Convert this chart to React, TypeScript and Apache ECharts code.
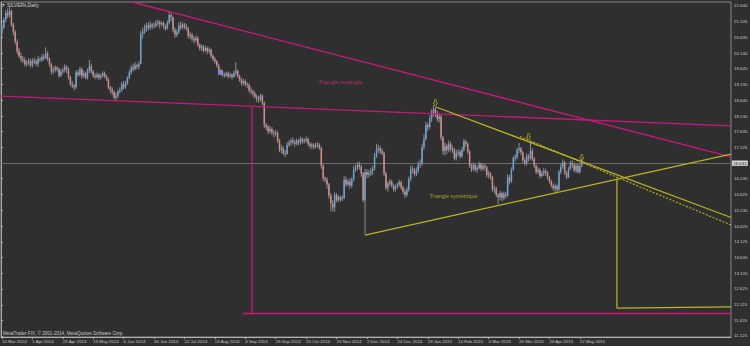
import React, { useEffect, useRef } from 'react';
import * as echarts from 'echarts';

// Daily candles [open, close, low, high], SILVER
const mar14 = [
  [20.78, 20.95, 20.70, 21.05], [20.95, 21.20, 20.90, 21.28], [21.20, 21.42, 21.12, 21.50], [21.42, 21.35, 21.25, 21.56],
  [21.35, 21.48, 21.28, 21.60], [21.48, 21.05, 20.98, 21.52], [21.05, 20.82, 20.70, 21.10], [20.82, 20.50, 20.42, 20.88],
  [20.50, 20.20, 20.10, 20.58], [20.20, 20.05, 19.98, 20.30], [20.05, 19.95, 19.85, 20.15], [19.95, 19.90, 19.82, 20.05],
  [19.90, 19.78, 19.72, 20.00], [19.78, 19.82, 19.70, 19.92], [19.82, 19.88, 19.75, 19.98], [19.88, 19.75, 19.68, 19.95],
];
const apr14 = [
  [19.75, 19.90, 19.68, 19.98], [19.90, 19.88, 19.78, 20.00], [19.88, 19.80, 19.72, 19.95], [19.80, 19.95, 19.70, 20.05],
  [19.95, 19.92, 19.85, 20.02], [19.92, 20.02, 19.86, 20.10], [20.02, 19.98, 19.90, 20.12], [19.98, 20.12, 19.94, 20.32],
  [20.12, 19.95, 19.88, 20.20], [19.95, 19.78, 19.70, 20.00], [19.78, 19.55, 19.45, 19.82], [19.55, 19.60, 19.48, 19.70],
  [19.60, 19.68, 19.52, 19.75], [19.68, 19.62, 19.55, 19.72], [19.62, 19.42, 19.35, 19.68], [19.42, 19.55, 19.38, 19.62],
  [19.55, 19.60, 19.48, 19.68], [19.60, 19.70, 19.52, 19.78], [19.70, 19.62, 19.50, 19.75], [19.62, 19.38, 19.30, 19.68],
  [19.38, 19.15, 19.08, 19.42], [19.15, 19.10, 19.02, 19.25],
];
const may14 = [
  [19.10, 19.05, 18.95, 19.15], [19.05, 19.52, 19.00, 19.60], [19.52, 19.45, 19.38, 19.60], [19.45, 19.62, 19.40, 19.70],
  [19.62, 19.40, 19.32, 19.68], [19.40, 19.50, 19.35, 19.58], [19.50, 19.35, 19.30, 19.55], [19.35, 19.58, 19.30, 19.65],
  [19.58, 19.72, 19.50, 19.92], [19.72, 19.55, 19.48, 19.80], [19.55, 19.42, 19.35, 19.60], [19.42, 19.38, 19.30, 19.50],
  [19.38, 19.45, 19.32, 19.52], [19.45, 19.35, 19.28, 19.50], [19.35, 19.42, 19.30, 19.48], [19.42, 19.50, 19.36, 19.56],
  [19.50, 19.40, 19.34, 19.55], [19.40, 19.30, 19.25, 19.45], [19.30, 19.05, 18.98, 19.35], [19.05, 18.98, 18.85, 19.10],
  [18.98, 18.90, 18.80, 19.05], [18.90, 18.72, 18.66, 18.95],
];
const jun14 = [
  [18.72, 18.78, 18.64, 18.88], [18.78, 18.92, 18.70, 18.98], [18.92, 18.95, 18.85, 19.05], [18.95, 19.15, 18.90, 19.22],
  [19.15, 19.05, 18.98, 19.25], [19.05, 19.18, 19.00, 19.25], [19.18, 19.35, 19.12, 19.40], [19.35, 19.52, 19.30, 19.60],
  [19.52, 19.68, 19.45, 19.75], [19.68, 19.62, 19.55, 19.80], [19.62, 19.75, 19.58, 19.85], [19.75, 19.70, 19.62, 19.80],
  [19.70, 19.80, 19.62, 19.88], [19.80, 20.75, 19.78, 20.85], [20.75, 20.82, 20.60, 20.95], [20.82, 20.90, 20.75, 21.05],
  [20.90, 21.02, 20.82, 21.10], [21.02, 20.95, 20.85, 21.12], [20.95, 21.05, 20.88, 21.15], [21.05, 21.00, 20.90, 21.10],
  [21.00, 21.02, 20.92, 21.12],
];
const jul14 = [
  [21.02, 21.08, 20.95, 21.18], [21.08, 21.12, 21.00, 21.20], [21.12, 21.05, 20.92, 21.18], [21.05, 21.10, 21.00, 21.15],
  [21.10, 21.00, 20.90, 21.15], [21.00, 20.92, 20.85, 21.05], [20.92, 21.10, 20.88, 21.18], [21.10, 21.35, 21.05, 21.47],
  [21.35, 21.28, 21.15, 21.40], [21.28, 20.88, 20.80, 21.30], [20.88, 20.72, 20.62, 20.95], [20.72, 20.80, 20.65, 20.90],
  [20.80, 21.02, 20.75, 21.12], [21.02, 20.95, 20.88, 21.15], [20.95, 21.05, 20.90, 21.12], [21.05, 20.98, 20.90, 21.10],
  [20.98, 20.92, 20.85, 21.08], [20.92, 20.68, 20.60, 20.98], [20.68, 20.72, 20.58, 20.82], [20.72, 20.60, 20.52, 20.78],
  [20.60, 20.55, 20.45, 20.68], [20.55, 20.62, 20.48, 20.70], [20.62, 20.40, 20.33, 20.68],
];
const aug14 = [
  [20.40, 20.30, 20.22, 20.45], [20.30, 20.35, 20.20, 20.42], [20.35, 20.22, 20.15, 20.40], [20.22, 20.30, 20.18, 20.38],
  [20.30, 20.20, 20.10, 20.35], [20.20, 20.25, 20.12, 20.32], [20.25, 20.05, 19.98, 20.28], [20.05, 19.95, 19.88, 20.10],
  [19.95, 19.88, 19.80, 20.02], [19.88, 19.75, 19.68, 19.92], [19.75, 19.60, 19.52, 19.80], [19.60, 19.55, 19.48, 19.65],
  [19.55, 19.45, 19.38, 19.60], [19.45, 19.42, 19.35, 19.52], [19.42, 19.50, 19.38, 19.55], [19.50, 19.40, 19.32, 19.55],
  [19.40, 19.45, 19.35, 19.52], [19.45, 19.38, 19.30, 19.50], [19.38, 19.50, 19.35, 19.58], [19.50, 19.58, 19.42, 19.85],
  [19.58, 19.40, 19.35, 19.62],
];
const sep14 = [
  [19.40, 19.30, 19.22, 19.45], [19.30, 19.18, 19.10, 19.35], [19.18, 19.25, 19.10, 19.32], [19.25, 19.15, 19.08, 19.30],
  [19.15, 19.12, 19.02, 19.22], [19.12, 18.95, 18.88, 19.18], [18.95, 18.92, 18.82, 19.05], [18.92, 18.85, 18.75, 18.98],
  [18.85, 18.75, 18.68, 18.92], [18.75, 18.70, 18.58, 18.82], [18.70, 18.65, 18.55, 18.78], [18.65, 18.78, 18.60, 18.85],
  [18.78, 18.55, 18.48, 18.82], [18.55, 17.85, 17.75, 18.60], [17.85, 17.78, 17.68, 17.92], [17.78, 17.65, 17.55, 17.85],
  [17.65, 17.72, 17.58, 17.82], [17.72, 17.60, 17.52, 17.78], [17.60, 17.58, 17.45, 17.68], [17.58, 17.60, 17.48, 17.70],
  [17.60, 17.35, 17.28, 17.65], [17.35, 17.05, 16.98, 17.40],
];
const oct14 = [
  [17.05, 17.10, 16.95, 17.22], [17.10, 16.95, 16.88, 17.18], [16.95, 16.92, 16.82, 17.05], [16.92, 17.22, 16.90, 17.30],
  [17.22, 17.28, 17.15, 17.36], [17.28, 17.35, 17.18, 17.42], [17.35, 17.30, 17.22, 17.45], [17.30, 17.25, 17.15, 17.38],
  [17.25, 17.35, 17.20, 17.42], [17.35, 17.28, 17.20, 17.40], [17.28, 17.40, 17.22, 17.48], [17.40, 17.32, 17.25, 17.45],
  [17.32, 17.36, 17.25, 17.42], [17.36, 17.40, 17.28, 17.48], [17.40, 17.25, 17.18, 17.45], [17.25, 17.18, 17.10, 17.30],
  [17.18, 17.22, 17.08, 17.28], [17.22, 17.15, 17.08, 17.26], [17.15, 17.20, 17.10, 17.28], [17.20, 17.22, 17.12, 17.30],
  [17.22, 17.12, 17.05, 17.27], [17.12, 16.55, 16.45, 17.15], [16.55, 16.15, 16.05, 16.60],
];
const nov14 = [
  [16.15, 16.10, 16.02, 16.20], [16.10, 15.95, 15.82, 16.18], [15.95, 15.60, 15.50, 16.00], [15.60, 15.35, 15.10, 15.68],
  [15.35, 15.22, 15.08, 15.45], [15.22, 15.62, 15.08, 15.70], [15.62, 15.45, 15.38, 15.68], [15.45, 15.55, 15.40, 15.62],
  [15.55, 15.48, 15.40, 15.60], [15.48, 15.52, 15.42, 15.60], [15.52, 16.10, 15.48, 16.22], [16.10, 15.95, 15.88, 16.20],
  [15.95, 16.05, 15.90, 16.12], [16.05, 15.92, 15.82, 16.15], [15.92, 16.10, 15.85, 16.18], [16.10, 16.42, 16.05, 16.55],
  [16.42, 16.48, 16.35, 16.58], [16.48, 16.58, 16.40, 16.66], [16.58, 16.52, 16.42, 16.68], [16.52, 16.30, 16.20, 16.58],
  [16.30, 15.45, 15.38, 16.35],
];
const dec14 = [
  [15.45, 16.35, 14.35, 16.45], [16.35, 16.25, 16.15, 16.45], [16.25, 16.32, 16.18, 16.42], [16.32, 16.38, 16.22, 16.48],
  [16.38, 16.45, 16.25, 16.55], [16.45, 16.85, 16.40, 16.95], [16.85, 17.05, 16.80, 17.25], [17.05, 17.10, 16.95, 17.22],
  [17.10, 17.02, 16.92, 17.18], [17.02, 16.95, 16.88, 17.10], [16.95, 16.30, 16.22, 17.00], [16.30, 15.85, 15.78, 16.35],
  [15.85, 15.98, 15.72, 16.05], [15.98, 16.05, 15.90, 16.12], [16.05, 15.92, 15.85, 16.10], [15.92, 15.80, 15.72, 15.98],
  [15.80, 15.88, 15.72, 15.95], [15.88, 15.95, 15.82, 16.02], [15.95, 16.02, 15.88, 16.10], [16.02, 15.85, 15.78, 16.08],
  [15.85, 15.72, 15.65, 15.92], [15.72, 15.62, 15.52, 15.80],
];
const jan15 = [
  [15.62, 15.78, 15.55, 15.88], [15.78, 16.12, 15.72, 16.20], [16.12, 16.45, 16.05, 16.55], [16.45, 16.42, 16.30, 16.55],
  [16.42, 16.28, 16.20, 16.48], [16.28, 16.38, 16.22, 16.50], [16.38, 16.58, 16.32, 16.68], [16.58, 16.62, 16.48, 16.75],
  [16.62, 17.15, 16.55, 17.25], [17.15, 17.40, 17.05, 17.55], [17.40, 17.85, 17.35, 17.95], [17.85, 17.78, 17.65, 17.92],
  [17.78, 18.05, 17.72, 18.15], [18.05, 18.28, 17.95, 18.35], [18.28, 18.35, 18.12, 18.48], [18.35, 18.22, 18.10, 18.42],
  [18.22, 18.05, 17.95, 18.30], [18.05, 18.12, 17.92, 18.22], [18.12, 17.45, 17.35, 18.18], [17.45, 17.02, 16.90, 17.50],
  [17.02, 17.18, 16.88, 17.28],
];
const feb15 = [
  [17.18, 17.05, 16.92, 17.25], [17.05, 17.25, 16.98, 17.35], [17.25, 17.10, 17.00, 17.32], [17.10, 17.05, 16.95, 17.20],
  [17.05, 16.78, 16.72, 17.12], [16.78, 16.95, 16.72, 17.05], [16.95, 16.98, 16.85, 17.08], [16.98, 16.85, 16.78, 17.05],
  [16.85, 17.05, 16.80, 17.15], [17.05, 17.32, 17.00, 17.40], [17.32, 17.25, 17.15, 17.38], [17.25, 17.00, 16.92, 17.30],
  [17.00, 16.55, 16.48, 17.05], [16.55, 16.45, 16.35, 16.62], [16.45, 16.58, 16.38, 16.65], [16.58, 16.42, 16.35, 16.62],
  [16.42, 16.48, 16.32, 16.55], [16.48, 16.60, 16.42, 16.68], [16.60, 16.45, 16.38, 16.65], [16.45, 16.55, 16.40, 16.62],
];
const mar15 = [
  [16.55, 16.50, 16.38, 16.62], [16.50, 16.25, 16.18, 16.55], [16.25, 16.30, 16.15, 16.40], [16.30, 16.18, 16.10, 16.35],
  [16.18, 15.80, 15.72, 16.22], [15.80, 15.82, 15.68, 15.92], [15.82, 15.62, 15.55, 15.88], [15.62, 15.55, 15.32, 15.68],
  [15.55, 15.68, 15.45, 15.75], [15.68, 15.52, 15.42, 15.72], [15.52, 15.65, 15.45, 15.72], [15.65, 15.60, 15.50, 15.72],
  [15.60, 16.18, 15.55, 16.28], [16.18, 16.05, 15.95, 16.25], [16.05, 16.42, 16.00, 16.50], [16.42, 16.78, 16.38, 16.85],
  [16.78, 16.82, 16.68, 16.92], [16.82, 17.05, 16.75, 17.12], [17.05, 17.10, 16.95, 17.28], [17.10, 16.98, 16.88, 17.15],
  [16.98, 16.72, 16.65, 17.02], [16.72, 16.62, 16.55, 16.80],
];
const apr15 = [
  [16.62, 16.85, 16.55, 16.95], [16.85, 16.78, 16.68, 16.92], [16.78, 17.02, 16.72, 17.32], [17.02, 16.78, 16.70, 17.10],
  [16.78, 16.55, 16.48, 16.82], [16.55, 16.35, 16.28, 16.60], [16.35, 16.42, 16.28, 16.50], [16.42, 16.22, 16.15, 16.48],
  [16.22, 16.30, 16.18, 16.38], [16.30, 16.38, 16.22, 16.48], [16.38, 16.32, 16.22, 16.45], [16.32, 16.18, 16.10, 16.38],
  [16.18, 16.05, 15.98, 16.22], [16.05, 15.92, 15.85, 16.10], [15.92, 15.82, 15.75, 15.98], [15.82, 15.90, 15.70, 15.98],
  [15.90, 15.78, 15.68, 15.95], [15.78, 16.35, 15.75, 16.42], [16.35, 16.52, 16.28, 16.62], [16.52, 16.65, 16.45, 16.75],
  [16.65, 16.32, 16.25, 16.70],
];
const may15 = [
  [16.32, 16.18, 16.12, 16.38], [16.18, 16.45, 16.15, 16.52], [16.45, 16.62, 16.40, 16.70], [16.62, 16.58, 16.48, 16.72],
  [16.58, 16.40, 16.35, 16.65], [16.40, 16.55, 16.32, 16.62], [16.55, 16.35, 16.30, 16.60], [16.35, 16.55, 16.30, 16.65],
  [16.55, 16.631, 16.50, 16.78],
];

const xLabels = [
  '10 Mar 2014', '1 Apr 2014', '23 Apr 2014', '15 May 2014', '6 Jun 2014', '30 Jun 2014', '22 Jul 2014',
  '13 Aug 2014', '4 Sep 2014', '26 Sep 2014', '20 Oct 2014', '10 Nov 2014', '2 Dec 2014', '24 Dec 2014',
  '19 Jan 2015', '10 Feb 2015', '4 Mar 2015', '26 Mar 2015', '20 Apr 2015', '12 May 2015',
];
const yTicks = [
  21.64, 21.145, 20.635, 20.14, 19.645, 19.135, 18.64, 18.13, 17.635, 17.125,
  16.135, 15.625, 15.13, 14.62, 14.125, 13.63, 13.12, 12.625, 12.115, 11.62, 11.125,
];
const currentPrice = 16.631;

// Drawn objects: [bar position, price]
const pinkUpperLine = [[68.9, 21.767], [384, 16.83]];
const pinkFlatLine = [[0, 18.77], [384, 17.82]];
const pinkDrop = [[132, 18.44], [132, 11.84]];
const pinkTarget = [[127.3, 11.84], [384, 11.84]];
const yellowUpper = [[228.8, 18.42], [384, 14.9]];
const yellowDotted = [[273, 17.48], [384, 14.66]];
const yellowLower = [[191.5, 14.34], [384, 16.92]];
const yellowDrop = [[324, 16.13], [324, 12.01]];
const yellowTarget = [[324, 12.01], [384, 12.05]];
const arrowMarks = [[228, 18.55], [277, 17.465], [305, 16.8]];
const selectedMark = [[115, 19.52]];
const textRect = [[166.8, 19.22]];
const textSym = [[225.1, 15.585]];

const SLOTS = 384;
const BG = '#2f2f2f';
const FONT = 'Liberation Sans';
const PINK = '#c8187a';
const YELLOW = '#bdb424';
const BULL = '#68a4d6';
const BEAR = '#d28c8c';
const WICK = '#8e8e8e';
const AXIS_TXT = '#c8c8c8';

export default function App() {
  const ref = useRef<HTMLDivElement>(null);

  useEffect(() => {
    const chart = echarts.init(ref.current!, null, { renderer: 'svg' });
    const all = [mar14, apr14, may14, jun14, jul14, aug14, sep14, oct14, nov14, dec14, jan15, feb15, mar15, apr15, may15];
    const candles = ([] as number[][]).concat(...all).map((d, i) => [i, d[0], d[1], d[2], d[3]]);
    const lastLabelIdx = (xLabels.length - 1) * 16;
    const showIdx = (idx: number) => idx % 16 === 0 && idx <= lastLabelIdx;

    const seg = (data: number[][], color: string, width: number, type: any = 'solid') => ({
      type: 'line',
      xAxisIndex: 1,
      yAxisIndex: 0,
      data,
      symbol: 'none',
      silent: true,
      z: 5,
      lineStyle: { color, width, type },
    });

    const option: any = {
      animation: false,
      backgroundColor: BG,
      textStyle: { fontFamily: FONT },
      grid: {
        left: 1, right: 19, top: 2, bottom: 9,
        show: true, borderColor: '#8a8a8a', borderWidth: 1,
        outerBoundsMode: 'none',
      },
      xAxis: [
        {
          type: 'category',
          data: Array.from({ length: SLOTS }, (_, i) => String(i)),
          axisLine: { show: true, lineStyle: { color: '#b0b0b0', width: 1 } },
          axisTick: { show: true, interval: (idx: number) => showIdx(idx), alignWithLabel: true, length: 2, lineStyle: { color: '#b0b0b0' } },
          axisLabel: {
            interval: (idx: number) => showIdx(idx),
            formatter: (_v: string, idx: number) => (showIdx(idx) ? xLabels[idx / 16] : ''),
            color: AXIS_TXT, fontSize: 4.4, fontFamily: FONT, align: 'left', margin: 2.5,
          },
          splitLine: { show: false },
        },
        { type: 'value', min: 0, max: SLOTS, show: false },
      ],
      yAxis: {
        type: 'value',
        position: 'right',
        min: 11.091,
        max: 21.767,
        scale: true,
        axisLine: { show: true, lineStyle: { color: '#b0b0b0', width: 1 } },
        axisTick: { show: true, customValues: yTicks, length: 2, lineStyle: { color: '#b0b0b0' } },
        axisLabel: {
          customValues: yTicks,
          formatter: (v: number) => v.toFixed(3),
          color: AXIS_TXT, fontSize: 4.4, fontFamily: FONT, margin: 3, align: 'left',
        },
        splitLine: { show: false },
      },
      graphic: [
        { type: 'polygon', shape: { points: [[2, 4], [5, 4], [3.5, 6]] }, style: { fill: '#d0d0d0' } },
        { type: 'text', left: 7, top: 2.5, style: { text: 'SILVERs,Daily', fill: '#d0d0d0', fontSize: 4.9, fontFamily: FONT } },
        { type: 'text', left: 3, top: 330.5, style: { text: 'MetaTrader FIX, \u00a9 2001-2014, MetaQuotes Software Corp.', fill: '#c8c8c8', fontSize: 4.6, fontFamily: FONT } },
      ],
      series: [
        {
          type: 'custom',
          xAxisIndex: 0,
          yAxisIndex: 0,
          z: 2,
          silent: true,
          data: candles,
          encode: { x: 0, y: [1, 2, 3, 4] },
          renderItem: (_p: any, api: any) => {
            const i = api.value(0);
            const o = api.value(1), c = api.value(2), l = api.value(3), h = api.value(4);
            const pO = api.coord([i, o]);
            const pC = api.coord([i, c]);
            const pL = api.coord([i, l]);
            const pH = api.coord([i, h]);
            const x = pO[0];
            const top = Math.min(pO[1], pC[1]);
            const bh = Math.max(1, Math.abs(pO[1] - pC[1]));
            return {
              type: 'group',
              children: [
                { type: 'line', shape: { x1: x, y1: pH[1], x2: x, y2: pL[1] }, style: { stroke: WICK, lineWidth: 1 } },
                { type: 'rect', shape: { x: x - 0.75, y: top, width: 1.5, height: bh }, style: { fill: c >= o ? BULL : BEAR } },
              ],
            };
          },
        },
        {
          ...seg(pinkFlatLine, PINK, 1.3),
          markLine: {
            silent: true,
            symbol: ['none', 'none'],
            data: [{ yAxis: currentPrice }],
            lineStyle: { color: '#6a6a6a', width: 1, type: 'solid' },
            label: {
              show: true, position: 'end', formatter: currentPrice.toFixed(3), distance: 1,
              color: '#1c1c1c', backgroundColor: '#d4d4d4', fontSize: 4.4, fontFamily: FONT,
              padding: [0.8, 1.2, 0.6, 1.2],
            },
            z: 1,
          },
        },
        seg(pinkUpperLine, PINK, 1.3),
        seg(pinkDrop, PINK, 1.3),
        seg(pinkTarget, PINK, 1.5),
        seg(yellowUpper, YELLOW, 1.2),
        seg(yellowDotted, YELLOW, 1.1, [2, 1.6]),
        seg(yellowLower, YELLOW, 1.2),
        seg(yellowDrop, YELLOW, 1.2),
        seg(yellowTarget, YELLOW, 1.2),
        {
          type: 'scatter', xAxisIndex: 0, yAxisIndex: 0, z: 6, silent: true,
          data: arrowMarks,
          symbol: 'path://M3,0H7V5H10L5,10L0,5H3Z',
          symbolSize: [4.5, 6.5],
          itemStyle: { color: 'rgba(0,0,0,0)', borderColor: YELLOW, borderWidth: 0.8 },
        },
        {
          type: 'scatter', xAxisIndex: 0, yAxisIndex: 0, z: 6, silent: true,
          data: selectedMark, symbol: 'rect', symbolSize: 5,
          itemStyle: { color: '#8f86e6', opacity: 0.85 },
        },
        {
          type: 'scatter', xAxisIndex: 1, yAxisIndex: 0, z: 6, silent: true,
          data: textRect, symbolSize: 1, itemStyle: { color: 'rgba(0,0,0,0)' },
          label: { show: true, position: 'right', distance: 0, formatter: 'Triangle rectangle', color: '#d8287f', fontSize: 5.5, fontFamily: FONT },
        },
        {
          type: 'scatter', xAxisIndex: 1, yAxisIndex: 0, z: 6, silent: true,
          data: textSym, symbolSize: 1, itemStyle: { color: 'rgba(0,0,0,0)' },
          label: { show: true, position: 'right', distance: 0, formatter: 'Triangle symétrique', color: '#c6be2c', fontSize: 5.5, fontFamily: FONT },
        },
      ],
    };

    chart.setOption(option);
    return () => chart.dispose();
  }, []);

  return (
    <div
      ref={ref}
      style={{ position: 'fixed', left: 0, top: 0, width: 750, height: 346, background: BG }}
    />
  );
}
